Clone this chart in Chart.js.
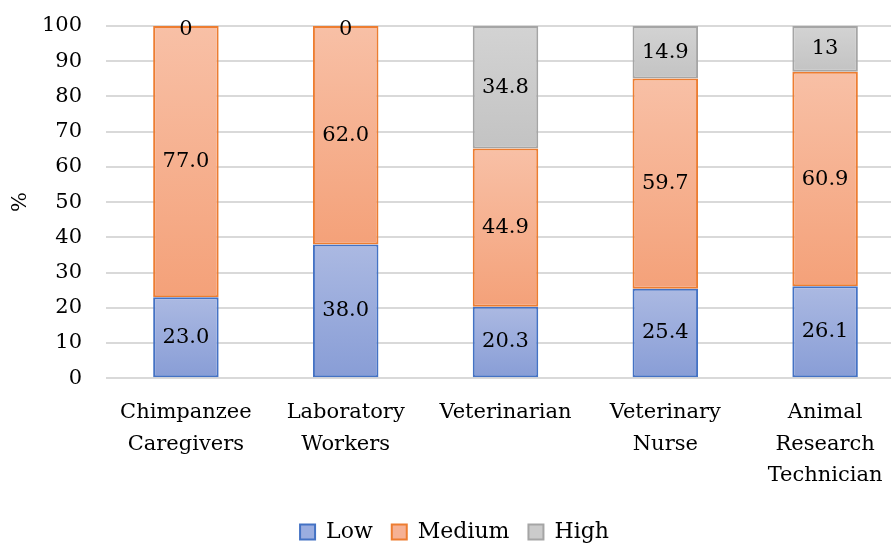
<!DOCTYPE html>
<html>
<head>
<meta charset="utf-8">
<script src="https://cdn.jsdelivr.net/npm/chart.js@4.4.1/dist/chart.umd.min.js"></script>
<style>
  html, body { margin: 0; padding: 0; background: #ffffff; overflow: hidden; }
  #wrap { position: absolute; left: 0; top: 0; width: 905px; height: 553px; }
</style>
</head>
<body>
<div id="wrap"><canvas id="chart" width="905" height="553"></canvas></div>
<script>
// Occupational groups (multi-line axis labels)
const categories = [
  ['Chimpanzee', 'Caregivers'],
  ['Laboratory', 'Workers'],
  ['Veterinarian'],
  ['Veterinary', 'Nurse'],
  ['Animal', 'Research', 'Technician']
];

// Share of respondents per level, in %
const lowValues = [23.0, 38.0, 20.3, 25.4, 26.1];
const mediumValues = [77.0, 62.0, 44.9, 59.7, 60.9];
const highValues = [0, 0, 34.8, 14.9, 13];

const yTicks = [0, 10, 20, 30, 40, 50, 60, 70, 80, 90, 100];

const FONT = 'DejaVu Serif';
const FS = 21;

// Per-segment vertical gradient, light at the top and darker at the base
function segmentGradient(top, bottom) {
  return function (ctx) {
    const chart = ctx.chart;
    const y = chart.scales.y;
    if (!y || !chart.chartArea || ctx.type !== 'data') return bottom;
    const di = ctx.datasetIndex, i = ctx.dataIndex;
    let start = 0;
    for (let d = 0; d < di; d++) start += chart.data.datasets[d].data[i];
    const end = start + chart.data.datasets[di].data[i];
    const y0 = y.getPixelForValue(end), y1 = y.getPixelForValue(start);
    if (!isFinite(y0) || !isFinite(y1) || y0 === y1) return bottom;
    const g = chart.ctx.createLinearGradient(0, y0, 0, y1);
    g.addColorStop(0, top);
    g.addColorStop(1, bottom);
    return g;
  };
}

// Value labels centred in each stacked segment
const segmentLabels = {
  id: 'segmentLabels',
  afterDatasetsDraw(chart) {
    const c = chart.ctx;
    c.save();
    c.font = FS + 'px "' + FONT + '"';
    c.fillStyle = '#000000';
    c.textAlign = 'center';
    c.textBaseline = 'middle';
    chart.data.datasets.forEach((ds, di) => {
      const meta = chart.getDatasetMeta(di);
      meta.data.forEach((bar, i) => {
        const v = ds.data[i];
        const text = di === 2 ? String(v) : v.toFixed(1);
        let yc = (bar.y + bar.base) / 2;
        if (Math.abs(bar.base - bar.y) < 1) yc = bar.y + 4;
        c.fillText(text, bar.x, yc);
      });
    });
    c.restore();
  }
};

new Chart(document.getElementById('chart'), {
  type: 'bar',
  data: {
    labels: categories,
    datasets: [
      {
        label: 'Low',
        data: lowValues,
        backgroundColor: segmentGradient('#abb9e2', '#889dd6'),
        borderColor: '#4472c4',
        borderWidth: 2
      },
      {
        label: 'Medium',
        data: mediumValues,
        backgroundColor: segmentGradient('#f8c0a6', '#f4a179'),
        borderColor: '#ed7d31',
        borderWidth: 2
      },
      {
        label: 'High',
        data: highValues,
        backgroundColor: segmentGradient('#d3d3d3', '#c3c3c3'),
        borderColor: '#a5a5a5',
        borderWidth: 2
      }
    ]
  },
  options: {
    responsive: false,
    animation: false,
    layout: { padding: { left: 4, right: 0, top: 26, bottom: 0 } },
    datasets: {
      bar: { barPercentage: 0.41, categoryPercentage: 1.0, borderSkipped: false }
    },
    scales: {
      x: {
        stacked: true,
        grid: { display: false },
        border: { display: false },
        afterFit(scale) {
          scale.paddingLeft = 0;
          scale.paddingRight = 0;
        },
        ticks: {
          color: '#000000',
          font: { family: FONT, size: FS, lineHeight: 1.52 },
          padding: 10,
          maxRotation: 0,
          autoSkip: false
        }
      },
      y: {
        stacked: true,
        min: 0,
        max: 100,
        afterBuildTicks(scale) {
          scale.ticks = yTicks.map(v => ({ value: v }));
        },
        afterFit(scale) {
          scale.width = 102;
          scale.paddingTop = 0;
          scale.paddingBottom = 0;
        },
        grid: { color: '#d9d9d9', lineWidth: 2, drawTicks: false },
        border: { display: false },
        ticks: {
          color: '#000000',
          font: { family: FONT, size: FS },
          padding: 24
        },
        title: {
          display: true,
          text: '%',
          color: '#000000',
          font: { family: FONT, size: FS },
          padding: { top: 4, bottom: 9 }
        }
      }
    },
    plugins: {
      legend: {
        position: 'bottom',
        labels: {
          color: '#000000',
          font: { family: FONT, size: 22 },
          boxWidth: 15,
          boxHeight: 15,
          padding: 19,
          generateLabels(chart) {
            const fills = ['#9aade0', '#f6b194', '#cbcbcb'];
            return chart.data.datasets.map((ds, i) => ({
              text: ds.label,
              fillStyle: fills[i],
              strokeStyle: ds.borderColor,
              lineWidth: 2,
              datasetIndex: i,
              hidden: false
            }));
          }
        }
      },
      tooltip: { enabled: false }
    }
  },
  plugins: [segmentLabels]
});
</script>
</body>
</html>
